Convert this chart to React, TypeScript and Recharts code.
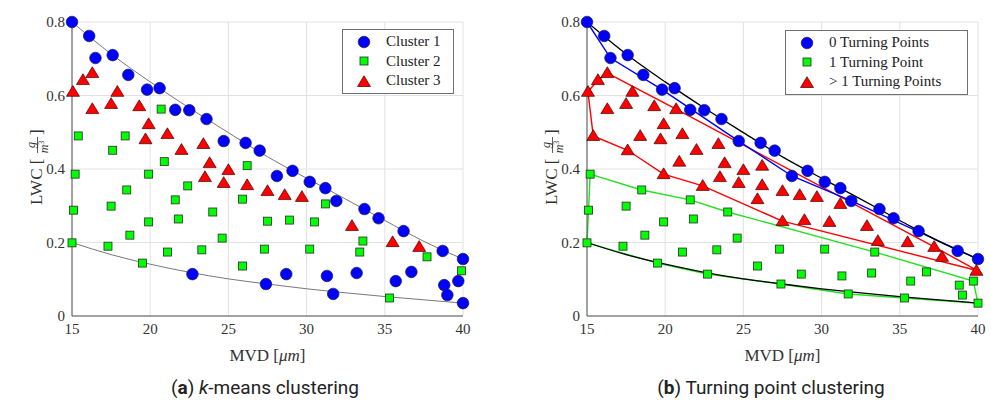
import React from 'react';
import {
  ComposedChart,
  Line,
  Scatter,
  XAxis,
  YAxis,
  CartesianGrid,
  Legend,
  Label
} from 'recharts';

// [MVD, LWC] pairs
// upper edge of the cloud: cluster 1 in (a), 0 turning points in (b)
const upperEdge = [
  [15.0, 0.800], [16.1, 0.762], [16.5, 0.702], [17.6, 0.710], [18.6, 0.656],
  [19.8, 0.616], [20.6, 0.620], [21.6, 0.561], [22.5, 0.560], [23.6, 0.536],
  [24.7, 0.476], [26.1, 0.471], [27.0, 0.450], [28.1, 0.381], [29.1, 0.395],
  [30.2, 0.365], [31.2, 0.348], [31.9, 0.313], [33.7, 0.291], [34.6, 0.266],
  [36.2, 0.231], [38.7, 0.177], [40.0, 0.155]
];
// cluster 1 in (a), 1 turning point in (b)
const lowerBlue = [
  [22.7, 0.114], [27.4, 0.087], [28.7, 0.114], [31.3, 0.109], [31.7, 0.060],
  [33.2, 0.117], [35.7, 0.095], [36.7, 0.120], [38.8, 0.084], [39.0, 0.057],
  [39.7, 0.095], [40.0, 0.035]
];
// cluster 2 in (a), 1 turning point in (b)
const greenStay = [
  [15.2, 0.386], [15.1, 0.288], [15.0, 0.199], [17.5, 0.299], [17.3, 0.190],
  [18.5, 0.343], [18.7, 0.220], [19.5, 0.144], [19.9, 0.256], [21.6, 0.316],
  [21.8, 0.264], [21.1, 0.174], [23.3, 0.180], [24.0, 0.283], [24.6, 0.212],
  [25.9, 0.136], [27.3, 0.182], [30.2, 0.182], [33.4, 0.174], [35.3, 0.049]
];
// cluster 2 in (a), >1 turning points in (b)
const greenToRed = [
  [20.7, 0.563], [15.4, 0.490], [18.4, 0.490], [17.6, 0.451], [20.9, 0.420],
  [26.2, 0.409], [19.9, 0.386], [22.4, 0.354], [25.9, 0.318], [27.5, 0.258],
  [28.9, 0.261], [30.5, 0.256], [31.2, 0.305], [33.6, 0.204], [37.7, 0.161],
  [39.9, 0.123]
];
// cluster 3 in (a), >1 turning points in (b)
const redPts = [
  [15.06, 0.610], [15.7, 0.642], [16.3, 0.661], [16.3, 0.563], [17.5, 0.577],
  [17.9, 0.610], [19.3, 0.571], [19.9, 0.522], [19.7, 0.481], [21.1, 0.495],
  [22.0, 0.452], [23.4, 0.468], [23.8, 0.416], [25.0, 0.397], [23.5, 0.378],
  [24.7, 0.362], [26.2, 0.356], [27.5, 0.340], [28.6, 0.329], [29.7, 0.324],
  [32.9, 0.245], [35.5, 0.201], [37.2, 0.188]
];

// envelope curves
const envX = [15, 17.5, 20, 22.5, 25, 27.5, 30, 32.5, 35, 37.5, 40];
const envUpper = [0.800, 0.713, 0.637, 0.566, 0.499, 0.433, 0.375, 0.318, 0.260, 0.203, 0.155];
const envLower = [0.200, 0.167, 0.141, 0.119, 0.101, 0.087, 0.074, 0.063, 0.053, 0.044, 0.035];

// group outlines in (b)
const blueHull = [
  [15.0, 0.800], [16.5, 0.702], [19.8, 0.616], [24.7, 0.476], [28.1, 0.381],
  [31.9, 0.313], [40.0, 0.155]
];
const redHull = [
  [15.06, 0.610], [15.7, 0.642], [16.3, 0.661], [20.7, 0.563], [37.2, 0.188],
  [40.0, 0.123], [27.5, 0.258], [22.4, 0.354], [19.9, 0.386], [17.6, 0.451],
  [15.4, 0.490], [15.06, 0.610]
];
const greenHull = [
  [15.0, 0.199], [15.1, 0.288], [15.2, 0.386], [18.5, 0.343], [21.6, 0.316],
  [24.0, 0.283], [33.4, 0.174], [39.7, 0.095], [40.0, 0.035], [35.3, 0.049],
  [31.7, 0.060], [27.4, 0.087], [22.7, 0.114], [19.5, 0.144], [15.0, 0.199]
];

const xTicks = [15, 20, 25, 30, 35, 40];
const yTicks = [0, 0.2, 0.4, 0.6, 0.8];

const toXY = (arr: number[][]) => arr.map(([x, y]) => ({ x, y }));
const upperCurve = envX.map((x, i) => ({ x, y: envUpper[i] }));
const lowerCurve = envX.map((x, i) => ({ x, y: envLower[i] }));

const SERIF = '"Liberation Serif", "DejaVu Serif", serif';
const BLUE = '#0000ff';
const GREEN = '#00ff00';
const RED = '#ff0000';

const CircleMark = ({ cx, cy }: any) => (
  <circle cx={cx} cy={cy} r={5.8} fill={BLUE} stroke="#1a1a40" strokeWidth={0.7} />
);
const SquareMark = ({ cx, cy }: any) => (
  <rect x={cx - 4} y={cy - 4} width={8} height={8} fill={GREEN} stroke="#2a2a2a" strokeWidth={0.8} />
);
const TriMark = ({ cx, cy }: any) => (
  <polygon
    points={`${cx},${cy - 6.3} ${cx - 6.5},${cy + 4.5} ${cx + 6.5},${cy + 4.5}`}
    fill={RED}
    stroke="#400000"
    strokeWidth={0.7}
  />
);

const legendContent = (items: { label: string; mark: string }[]) => () => (
  <div
    style={{
      border: '1px solid #707070',
      background: '#fff',
      padding: '2px 6px 2px 0',
      fontFamily: SERIF,
      fontSize: 15,
      color: '#222'
    }}
  >
    {items.map((it) => (
      <div key={it.label} style={{ display: 'flex', alignItems: 'center', height: 19.5 }}>
        <svg width={32} height={18} style={{ flex: 'none' }}>
          {it.mark === 'c' && <CircleMark cx={21} cy={9} />}
          {it.mark === 's' && <SquareMark cx={21} cy={9} />}
          {it.mark === 't' && <TriMark cx={21} cy={10} />}
        </svg>
        <span style={{ marginLeft: 11, whiteSpace: 'nowrap' }}>{it.label}</span>
      </div>
    ))}
  </div>
);

const YLabel = () => {
  const cx = 37;
  const cy = 166;
  const fx = cx + 21;
  return (
    <g transform={`rotate(-90 ${cx} ${cy})`} fontFamily={SERIF} fill="#333">
      <text x={cx - 39} y={cy + 5} fontSize={17}>LWC [</text>
      <text x={fx} y={cy - 2} fontSize={13} fontStyle="italic" textAnchor="middle">g</text>
      <line x1={fx - 8} x2={fx + 8} y1={cy + 0.5} y2={cy + 0.5} stroke="#333" strokeWidth={0.8} />
      <text x={fx - 2} y={cy + 11} fontSize={12} fontStyle="italic" textAnchor="middle">
        m<tspan dy={-4} fontSize={8} fontStyle="normal">3</tspan>
      </text>
      <text x={fx + 10} y={cy + 5} fontSize={17}>]</text>
    </g>
  );
};

const XLabel = ({ viewBox }: any) => {
  const cx = viewBox.x + viewBox.width / 2;
  return (
    <text x={cx} y={361} textAnchor="middle" fontFamily={SERIF} fontSize={17} fill="#333">
      MVD [<tspan fontStyle="italic">μm</tspan>]
    </text>
  );
};

interface PanelProps {
  left: number;
  panel: 'a' | 'b';
}

const Panel: React.FC<PanelProps> = ({ left, panel }) => {
  const isA = panel === 'a';
  const legendItems = isA
    ? [
        { label: 'Cluster 1', mark: 'c' },
        { label: 'Cluster 2', mark: 's' },
        { label: 'Cluster 3', mark: 't' }
      ]
    : [
        { label: '0 Turning Points', mark: 'c' },
        { label: '1 Turning Point', mark: 's' },
        { label: '> 1 Turning Points', mark: 't' }
      ];
  const blues = isA ? [...upperEdge, ...lowerBlue] : upperEdge;
  const greens = isA ? [...greenStay, ...greenToRed] : [...lowerBlue, ...greenStay];
  const reds = isA ? redPts : [...redPts, ...greenToRed];
  const envStroke = isA ? '#555' : '#000';
  const envWidth = isA ? 0.8 : 1.3;

  return (
    <div style={{ position: 'absolute', left, top: 0 }}>
      <ComposedChart width={480} height={380} margin={{ top: 22, right: 17, bottom: 34, left: 22 }}>
        <CartesianGrid stroke="#e2e2e2" strokeWidth={1} />
        <XAxis
          dataKey="x"
          type="number"
          domain={[15, 40]}
          ticks={xTicks}
          height={30}
          tickLine={false}
          axisLine={{ stroke: '#555' }}
          tick={{ fill: '#333', fontFamily: SERIF, fontSize: 15 }}
          tickMargin={1}
        >
          <Label content={<XLabel />} />
        </XAxis>
        <YAxis
          dataKey="y"
          type="number"
          domain={[0, 0.8]}
          ticks={yTicks}
          width={50}
          tickLine={false}
          axisLine={{ stroke: '#555' }}
          tick={{ fill: '#333', fontFamily: SERIF, fontSize: 15 }}
          tickFormatter={(v: number) => (v === 0 ? '0' : v.toFixed(1))}
          tickMargin={1}
        >
          <Label content={<YLabel />} />
        </YAxis>
        {!isA && (
          <Line data={toXY(greenHull)} dataKey="y" type="linear" stroke="#22e022" strokeWidth={1.4} dot={false} isAnimationActive={false} legendType="none" />
        )}
        {!isA && (
          <Line data={toXY(redHull)} dataKey="y" type="linear" stroke={RED} strokeWidth={1.4} dot={false} isAnimationActive={false} legendType="none" />
        )}
        {!isA && (
          <Line data={toXY(blueHull)} dataKey="y" type="linear" stroke={BLUE} strokeWidth={1.4} dot={false} isAnimationActive={false} legendType="none" />
        )}
        <Line data={upperCurve} dataKey="y" type="monotone" stroke={envStroke} strokeWidth={envWidth} dot={false} isAnimationActive={false} legendType="none" />
        <Line data={lowerCurve} dataKey="y" type="monotone" stroke={envStroke} strokeWidth={envWidth} dot={false} isAnimationActive={false} legendType="none" />
        <Scatter data={toXY(greens)} shape={<SquareMark />} isAnimationActive={false} />
        <Scatter data={toXY(reds)} shape={<TriMark />} isAnimationActive={false} />
        <Scatter data={toXY(blues)} shape={<CircleMark />} isAnimationActive={false} />
        <Legend
          layout="vertical"
          align="center"
          verticalAlign="middle"
          content={legendContent(legendItems)}
          wrapperStyle={isA ? { left: 342, top: 29, width: 112, height: 64 } : { left: 270, top: 30, width: 183, height: 64 }}
        />
      </ComposedChart>
    </div>
  );
};

const captionStyle: React.CSSProperties = {
  position: 'absolute',
  top: 376,
  width: 400,
  textAlign: 'center',
  fontFamily: 'Roboto, "Open Sans", sans-serif',
  fontSize: 19,
  color: '#222',
  whiteSpace: 'nowrap'
};

export default function App() {
  return (
    <div style={{ position: 'absolute', left: 0, top: 0, width: 991, height: 407, background: '#fff', overflow: 'hidden' }}>
      <Panel left={0} panel="a" />
      <Panel left={515} panel="b" />
      <div style={{ ...captionStyle, left: 65 }}>
        (<b>a</b>) <i>k</i>-means clustering
      </div>
      <div style={{ ...captionStyle, left: 571 }}>
        (<b>b</b>) Turning point clustering
      </div>
    </div>
  );
}
